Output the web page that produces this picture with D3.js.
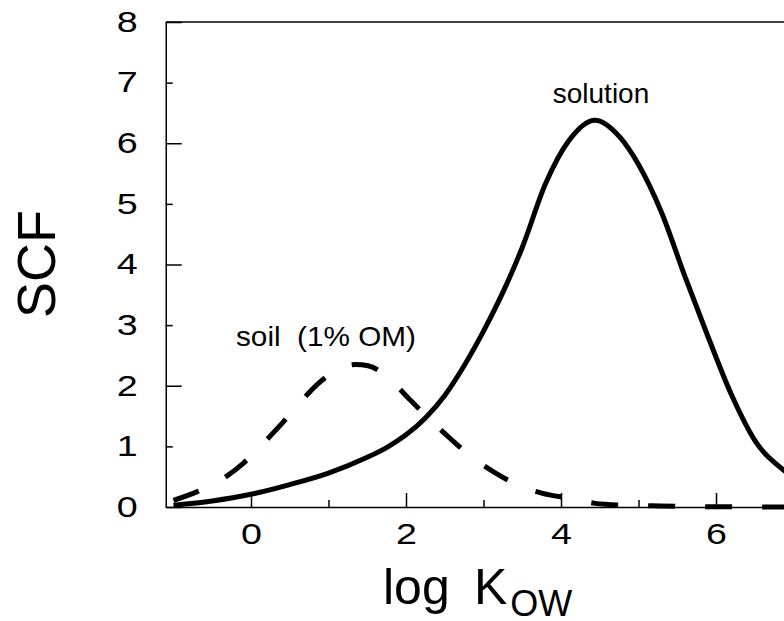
<!DOCTYPE html>
<html>
<head>
<meta charset="utf-8">
<script src="https://cdn.jsdelivr.net/npm/d3@7.9.0/dist/d3.min.js"></script>
<style>
  body { margin: 0; background: #fff; }
  svg { display: block; font-family: "Liberation Sans", Arial, sans-serif; }
  .axis path, .axis line { stroke: #000; stroke-width: 1.5; }
  .axis text { font-size: 29px; fill: #000; font-family: "Liberation Sans", Arial, sans-serif; }
</style>
</head>
<body>
<svg width="784" height="621"></svg>
<script>
// solution curve (log Kow, SCF)
const solutionX = [-1.0, -0.5, 0, 0.5, 1.0, 1.5, 1.75, 2.0, 2.25, 2.5, 2.75, 3.0, 3.3, 3.5, 3.8, 4.1, 4.44, 4.76, 5.0, 5.3, 5.6, 5.9, 6.2, 6.5, 6.88, 7.0];
const solutionY = [0.03, 0.10, 0.21, 0.37, 0.56, 0.82, 0.98, 1.19, 1.47, 1.84, 2.33, 2.9, 3.68, 4.28, 5.33, 6.04, 6.38, 6.1, 5.65, 4.85, 3.8, 2.8, 1.85, 1.1, 0.6, 0.48];

// soil (1% OM) curve
const soilX = [-1.0, -0.7, -0.36, -0.1, 0.18, 0.4, 0.63, 0.87, 1.17, 1.35, 1.51, 1.82, 2.05, 2.31, 2.57, 2.85, 3.13, 3.45, 3.75, 4.12, 4.44, 4.83, 5.17, 5.5, 6.0, 7.0];
const soilY = [0.11, 0.25, 0.47, 0.72, 1.08, 1.38, 1.72, 2.04, 2.30, 2.35, 2.33, 2.07, 1.77, 1.44, 1.13, 0.82, 0.58, 0.36, 0.23, 0.14, 0.06, 0.03, 0.02, 0.01, 0.005, 0];

const xMajor = [0, 2, 4, 6];
const xMinor = [1, 3, 5];
const yMajor = [0, 2, 4, 6, 8];
const yMinor = [1, 3, 5, 7];
const yLabels = [0, 1, 2, 3, 4, 5, 6, 7, 8];

const svg = d3.select('svg');

const x = d3.scaleLinear().domain([-1.1, 7]).range([165.75, 793.5]);
const y = d3.scaleLinear().domain([0, 8]).range([507, 22]);

const stretch = 1.3; // tick digits are drawn wide in the original

// axes: major ticks with labels, minor ticks without
svg.append('g')
  .attr('class', 'axis')
  .attr('transform', `translate(0,${y(0)})`)
  .call(d3.axisBottom(x).tickValues(xMajor).tickSizeInner(-14).tickSizeOuter(0).tickPadding(16).tickFormat(d3.format('d')))
  .call(g => g.selectAll('.tick text').attr('transform', `scale(${stretch},1)`));

svg.append('g')
  .attr('class', 'axis')
  .attr('transform', `translate(0,${y(0)})`)
  .call(d3.axisBottom(x).tickValues(xMinor).tickSizeInner(-7).tickSizeOuter(0).tickFormat(''))
  .select('.domain').remove();

svg.append('g')
  .attr('class', 'axis')
  .attr('transform', `translate(${x(-1.1)},0)`)
  .call(d3.axisLeft(y).tickValues(yLabels).tickSize(0).tickPadding(28).tickFormat(d3.format('d')))
  .call(g => g.selectAll('.tick line').remove())
  .call(g => g.selectAll('.tick text')
    .attr('x', -28 / stretch)
    .attr('transform', `scale(${stretch},1)`));

svg.append('g')
  .attr('class', 'axis')
  .attr('transform', `translate(${x(-1.1)},0)`)
  .call(d3.axisLeft(y).tickValues(yMajor).tickSizeInner(-16).tickSizeOuter(0).tickFormat(''))
  .select('.domain').remove();

svg.append('g')
  .attr('class', 'axis')
  .attr('transform', `translate(${x(-1.1)},0)`)
  .call(d3.axisLeft(y).tickValues(yMinor).tickSizeInner(-7).tickSizeOuter(0).tickFormat(''))
  .select('.domain').remove();

// top frame line
svg.append('line')
  .attr('x1', x(-1.1)).attr('x2', x(7))
  .attr('y1', y(8)).attr('y2', y(8))
  .attr('stroke', '#000').attr('stroke-width', 1.5);

const line = d3.line()
  .x(d => x(d[0]))
  .y(d => y(d[1]))
  .curve(d3.curveMonotoneX);

svg.append('path')
  .datum(d3.zip(soilX, soilY))
  .attr('d', line)
  .attr('fill', 'none')
  .attr('stroke', '#000')
  .attr('stroke-width', 5)
  .attr('stroke-dasharray', '27,30');

svg.append('path')
  .datum(d3.zip(solutionX, solutionY))
  .attr('d', line)
  .attr('fill', 'none')
  .attr('stroke', '#000')
  .attr('stroke-width', 5);

// labels
svg.append('text')
  .attr('x', 601).attr('y', 103)
  .attr('text-anchor', 'middle')
  .attr('font-size', 28)
  .text('solution');

svg.append('text')
  .attr('x', 236).attr('y', 346)
  .attr('font-size', 28)
  .attr('textLength', 180)
  .attr('lengthAdjust', 'spacingAndGlyphs')
  .style('white-space', 'pre')
  .text('soil  (1% OM)');

svg.append('text')
  .attr('transform', 'translate(55,264) rotate(-90)')
  .attr('text-anchor', 'middle')
  .attr('font-size', 54)
  .text('SCF');

const xt = svg.append('text')
  .attr('x', 383).attr('y', 604)
  .attr('font-size', 50);
xt.append('tspan').text('log');
xt.append('tspan').attr('x', 474).text('K');
xt.append('tspan').attr('dx', 3).attr('dy', 12).attr('font-size', 36).text('OW');
</script>
</body>
</html>
